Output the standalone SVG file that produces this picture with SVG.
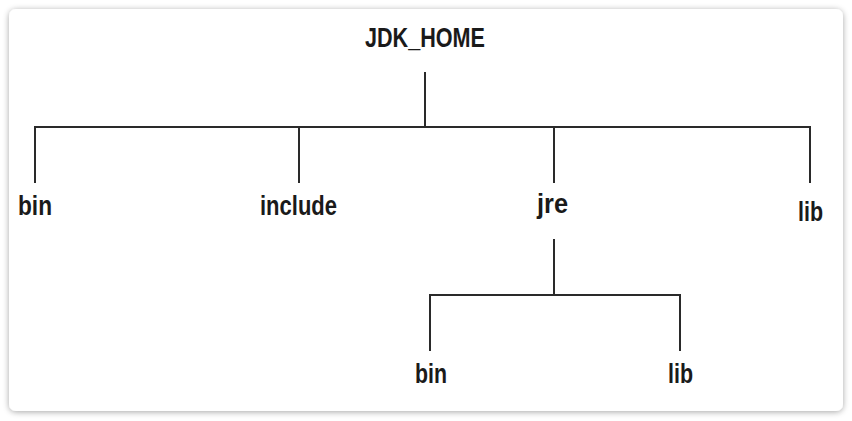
<svg xmlns="http://www.w3.org/2000/svg" width="852" height="421" viewBox="0 0 852 421">
<defs>
<filter id="sh" x="-5%" y="-5%" width="110%" height="110%">
<feGaussianBlur in="SourceAlpha" stdDeviation="3"/>
<feOffset dx="0" dy="1"/>
<feComponentTransfer><feFuncA type="linear" slope="0.35"/></feComponentTransfer>
<feMerge><feMergeNode/><feMergeNode in="SourceGraphic"/></feMerge>
</filter>
</defs>
<style>
.t{font-family:"Liberation Sans Narrow","Liberation Sans",Arial,sans-serif;font-weight:bold;font-size:28px;fill:#1a1a1a}
.c{fill:none;stroke:#2a2a2a;stroke-width:2}
</style>
<rect width="852" height="421" fill="#fff"/>
<rect x="9" y="9" width="834" height="402" rx="7" fill="#fff" filter="url(#sh)"/>
<g id="connectors">
<path class="c" d="M425 72V127M35 183V127H810V183M299 127V183M554 127V183"/>
<path class="c" d="M554 239V295M430 351V295H680V351"/>
</g>
<g id="jdk_home"><text class="t" x="365" y="47" textLength="120" lengthAdjust="spacingAndGlyphs">JDK_HOME</text></g>
<g id="bin"><text class="t" x="18" y="215" textLength="34" lengthAdjust="spacingAndGlyphs">bin</text></g>
<g id="include"><text class="t" x="260" y="215" textLength="77" lengthAdjust="spacingAndGlyphs">include</text></g>
<g id="jre"><text class="t" x="537" y="213" textLength="31" lengthAdjust="spacingAndGlyphs">jre</text></g>
<g id="lib"><text class="t" x="798" y="221" textLength="25" lengthAdjust="spacingAndGlyphs">lib</text></g>
<g id="jre_bin"><text class="t" x="415" y="383" textLength="32" lengthAdjust="spacingAndGlyphs">bin</text></g>
<g id="jre_lib"><text class="t" x="668" y="383" textLength="25" lengthAdjust="spacingAndGlyphs">lib</text></g>
</svg>
